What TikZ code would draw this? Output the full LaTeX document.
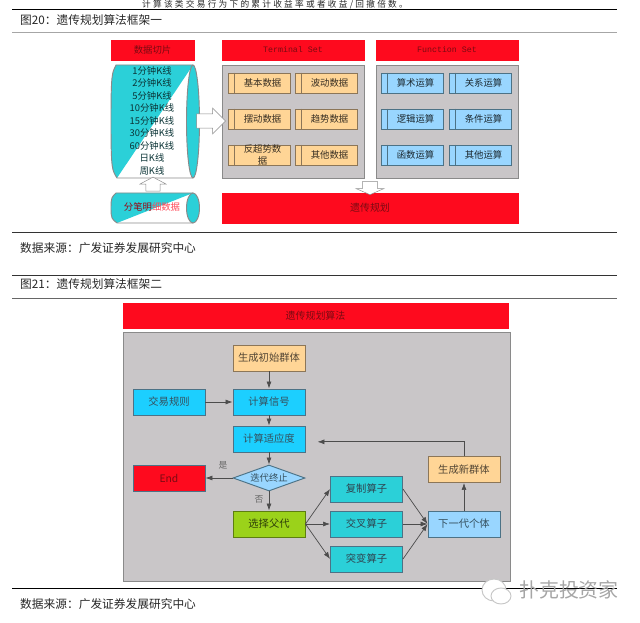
\documentclass[tikz,border=0pt]{standalone}
\usepackage{fontspec}
\setmainfont{Noto Sans CJK SC}
\newfontfamily\monofont{Liberation Mono}
\newfontfamily\spacedfont[LetterSpace=26]{Noto Sans CJK SC}
\usepackage{xcolor}
\usepackage{tikz}
\usetikzlibrary{arrows.meta,positioning,calc,shapes.geometric,shapes.arrows}
\definecolor{GpRed}{HTML}{FE0A1E}
\definecolor{GpRedText}{HTML}{7A0A12}
\definecolor{GpGray}{HTML}{C9C6C8}
\definecolor{GpEdge}{HTML}{8A8A8A}
\definecolor{GpPeach}{HTML}{FFD596}
\definecolor{GpPeachEdge}{HTML}{8C7658}
\definecolor{GpCyan}{HTML}{1CCFFF}
\definecolor{GpTeal}{HTML}{2BD0D8}
\definecolor{GpSky}{HTML}{99D6FF}
\definecolor{GpGreen}{HTML}{9BD21A}
\definecolor{GpBlueEdge}{HTML}{4C7286}
\tikzset{
  headbox/.style={draw=GpRed,fill=GpRed,text=GpRedText,inner sep=0,font=\fontsize{8}{9}\selectfont},
  panelbox/.style={draw=GpEdge,fill=GpGray,thick,inner sep=0},
  cellbox/.style={thick,inner sep=0,minimum width=18.6mm,minimum height=6mm},
  celltext/.style={inner sep=0,align=center,text=#1,font=\fontsize{8}{9.5}\selectfont},
  flowbox/.style={draw=GpBlueEdge,thick,inner sep=0,minimum width=21.6mm,minimum height=7.8mm,font=\fontsize{8.8}{10}\selectfont},
  captext/.style={inner sep=0,anchor=west,text=black!85,font=\fontsize{10}{12}\selectfont},
  linetext/.style={inner sep=0,text=black!75!GpTeal,font=\fontsize{8}{9}\selectfont},
  fatarrow/.style={single arrow,draw=GpEdge,fill=white,inner sep=1.35mm,single arrow head extend=1.2mm},
  link/.style={->,black!70,semithick},
}
\begin{document}
\begin{tikzpicture}[x=.3mm,y=-.3mm,>={Latex[length=2.1mm,width=1.5mm]}]
  \useasboundingbox (0,0) rectangle (640,623);
  \clip (0,0) rectangle (640,623);

  \node[inner sep=0,anchor=west,text=black!85,font=\spacedfont\fontsize{7.4}{8}\selectfont] (topline) at (142,4.3) {计算该类交易行为下的累计收益率或者收益/回撤倍数。};
  \draw[black,thick] (12,9)--(617,9);
  \draw[black!35,thick] (12,32)--(617,32);
  \draw[black!80,thick] (12,232)--(617,232);
  \draw[black!80,thick] (12,275)--(617,275);
  \draw[black!60,thick] (12,298)--(617,298);
  \draw[black,thick] (12,588)--(617,588);
  \node[captext] (capa) at (20,20) {图20：遗传规划算法框架一};
  \node[captext] (srca) at (20,248) {数据来源：广发证券发展研究中心};
  \node[captext] (capb) at (20,284) {图21：遗传规划算法框架二};
  \node[captext] (srcb) at (20,604) {数据来源：广发证券发展研究中心};

  \node[headbox,minimum width=24.9mm,minimum height=6mm] (slice) at (152.5,50) {数据切片};
  \node[headbox,minimum width=42.6mm,minimum height=6mm] (terminal) at (293,50) {\monofont\fontsize{7.1}{9}\selectfont Terminal Set};
  \node[headbox,minimum width=42.6mm,minimum height=6mm] (function) at (447,50) {\monofont\fontsize{7.1}{9}\selectfont Function Set};
  \node[panelbox,minimum width=42.6mm,minimum height=33.9mm] (tpanel) at (293,121.5) {};
  \node[panelbox,minimum width=42.6mm,minimum height=33.9mm] (fpanel) at (447,121.5) {};
  \node[headbox,minimum width=88.8mm,minimum height=9mm,font=\fontsize{8.5}{10}\selectfont] (gp) at (370,208) {遗传规划};

  \foreach \ya/\yb/\ym/\ry/\yc/\yd in {65/178/121.5/56.5/73/170,193/223/208/15/197/219}{
    \fill[white] (118,\ya)--(193,\ya)--(193,\yb)--(118,\yb)--cycle;
    \fill[GpTeal] (193,\ya)--(116,\ya) .. controls (112,\yc) and (111,\yc) .. (111,\ym) .. controls (111,\yd) and (112,\yd) .. (117,\yb)--cycle;
    \draw[GpEdge,thick] (193,\ya)--(116,\ya) .. controls (112,\yc) and (111,\yc) .. (111,\ym) .. controls (111,\yd) and (112,\yd) .. (117,\yb)--(193,\yb);
    \draw[GpEdge,fill=GpTeal,thick] (193,\ym) ellipse (6.5 and \ry);
  }
  \foreach \nm/\yy/\lab in {ka/70.5/1分钟K线,kb/83/2分钟K线,kc/95.5/5分钟K线,kd/108/10分钟K线,ke/120.5/15分钟K线,kf/133/30分钟K线,kg/145.5/60分钟K线,kh/158/日K线,ki/171/周K线}{
    \node[linetext] (\nm) at (152,\yy) {\lab};
  }
  \node[inner sep=0,font=\fontsize{8}{9}\selectfont] (tick) at (152,207) {\textcolor{GpRed!60!black}{分笔明}\textcolor{GpRed!75}{细数据}};

  \foreach \nm/\xx/\yy/\lab in {tb/259/83/基本数据,tc/326/83/波动数据,td/259/119/摆动数据,te/326/119/趋势数据,tf/259/155/反超势数\\据,tg/326/155/其他数据}{
    \node[cellbox,draw=GpPeachEdge,fill=GpPeach] (\nm) at (\xx,\yy) {};
    \draw[GpPeachEdge,thick] ([xshift=2.1mm]\nm.north west)--([xshift=2.1mm]\nm.south west);
    \node[celltext=black!60!GpPeachEdge] (\nm l) at ([xshift=1.05mm]\nm.center) {\lab};
  }
  \foreach \nm/\xx/\yy/\lab in {fb/412/83/算术运算,fc/480/83/关系运算,fd/412/119/逻辑运算,fe/480/119/条件运算,ff/412/155/函数运算,fg/480/155/其他运算}{
    \node[cellbox,draw=GpBlueEdge,fill=GpSky] (\nm) at (\xx,\yy) {};
    \draw[GpBlueEdge,thick] ([xshift=2.1mm]\nm.north west)--([xshift=2.1mm]\nm.south west);
    \node[celltext=black!65!GpBlueEdge] (\nm l) at ([xshift=1.05mm]\nm.center) {\lab};
  }

  \node[fatarrow,minimum width=7.8mm,minimum height=8.7mm] (toterm) at (207.5,121) {};
  \node[fatarrow,minimum width=7.8mm,minimum height=4.2mm,single arrow tip angle=124,shape border rotate=90] (toslice) at (153,186) {};
  \node[fatarrow,minimum width=8.4mm,minimum height=3.9mm,single arrow tip angle=133,shape border rotate=270] (togp) at (370,186.5) {};

  \node[headbox,minimum width=115.5mm,minimum height=7.5mm,font=\fontsize{8.5}{10}\selectfont] (gpalgo) at (315.5,315.5) {遗传规划算法};
  \node[panelbox,minimum width=116.1mm,minimum height=74.7mm] (algopanel) at (316.5,456.5) {};

  \node[flowbox,draw=GpPeachEdge,fill=GpPeach,text=GpPeachEdge!60!black] (initpop) at (269,358) {生成初始群体};
  \node[flowbox,fill=GpCyan,text=GpBlueEdge!70!black] (rule) at (169,402) {交易规则};
  \node[flowbox,fill=GpCyan,text=GpBlueEdge!70!black] (signal) at (269,402) {计算信号};
  \node[flowbox,fill=GpCyan,text=GpBlueEdge!70!black] (fit) at (269,439) {计算适应度};
  \node[flowbox,draw=GpBlueEdge,fill=GpRed,text=GpRedText] (stop) at (169,478) {End};
  \node[flowbox,diamond,aspect=2.8,fill=GpSky,text=GpBlueEdge!70!black,font=\fontsize{8}{9}\selectfont] (iter) at (269,478) {迭代终止};
  \node[flowbox,fill=GpGreen,draw=GpGreen!60!black,text=GpGreen!30!black] (parent) at (269,524) {选择父代};
  \node[flowbox,fill=GpTeal,text=GpBlueEdge!60!black] (copyop) at (366.5,489) {复制算子};
  \node[flowbox,fill=GpTeal,text=GpBlueEdge!60!black] (crossop) at (366.5,524) {交叉算子};
  \node[flowbox,fill=GpTeal,text=GpBlueEdge!60!black] (mutop) at (366.5,559) {突变算子};
  \node[flowbox,fill=GpSky,text=GpBlueEdge!70!black] (nextgen) at (464,524) {下一代个体};
  \node[flowbox,draw=GpPeachEdge,fill=GpPeach,text=GpPeachEdge!60!black] (newpop) at (464,469.5) {生成新群体};
  \node[inner sep=0,text=black!60,font=\fontsize{7.5}{9}\selectfont] (yes) at (223,465) {是};
  \node[inner sep=0,text=black!60,font=\fontsize{7.5}{9}\selectfont] (no) at (259,499) {否};

  \draw[link] (initpop)--(signal);
  \draw[link] (rule)--(signal);
  \draw[link] (signal)--(fit);
  \draw[link] (fit)--(iter);
  \draw[link] (iter)--(stop);
  \draw[link] (iter)--(parent);
  \draw[link] (parent.east)--(copyop.west);
  \draw[link] (parent.east)--(crossop.west);
  \draw[link] (parent.east)--(mutop.west);
  \draw[link] (copyop.east)--(nextgen.west);
  \draw[link] (crossop.east)--(nextgen.west);
  \draw[link] (mutop.east)--(nextgen.west);
  \draw[link] (nextgen)--(newpop);
  \coordinate (fitin) at ([yshift=-.85mm]fit.east);
  \draw[link,shorten >=3.6mm] (newpop.north) |- (fitin);

  \draw[black!22,fill=white,thick] (494,590) ellipse (12 and 11);
  \draw[black!22,fill=white,thick] (501,596) ellipse (10 and 8);
  \node[inner sep=0,anchor=west,text=black!35,font=\fontsize{17}{20}\selectfont] (mark) at (519,590) {扑克投资家};
\end{tikzpicture}
\end{document}
